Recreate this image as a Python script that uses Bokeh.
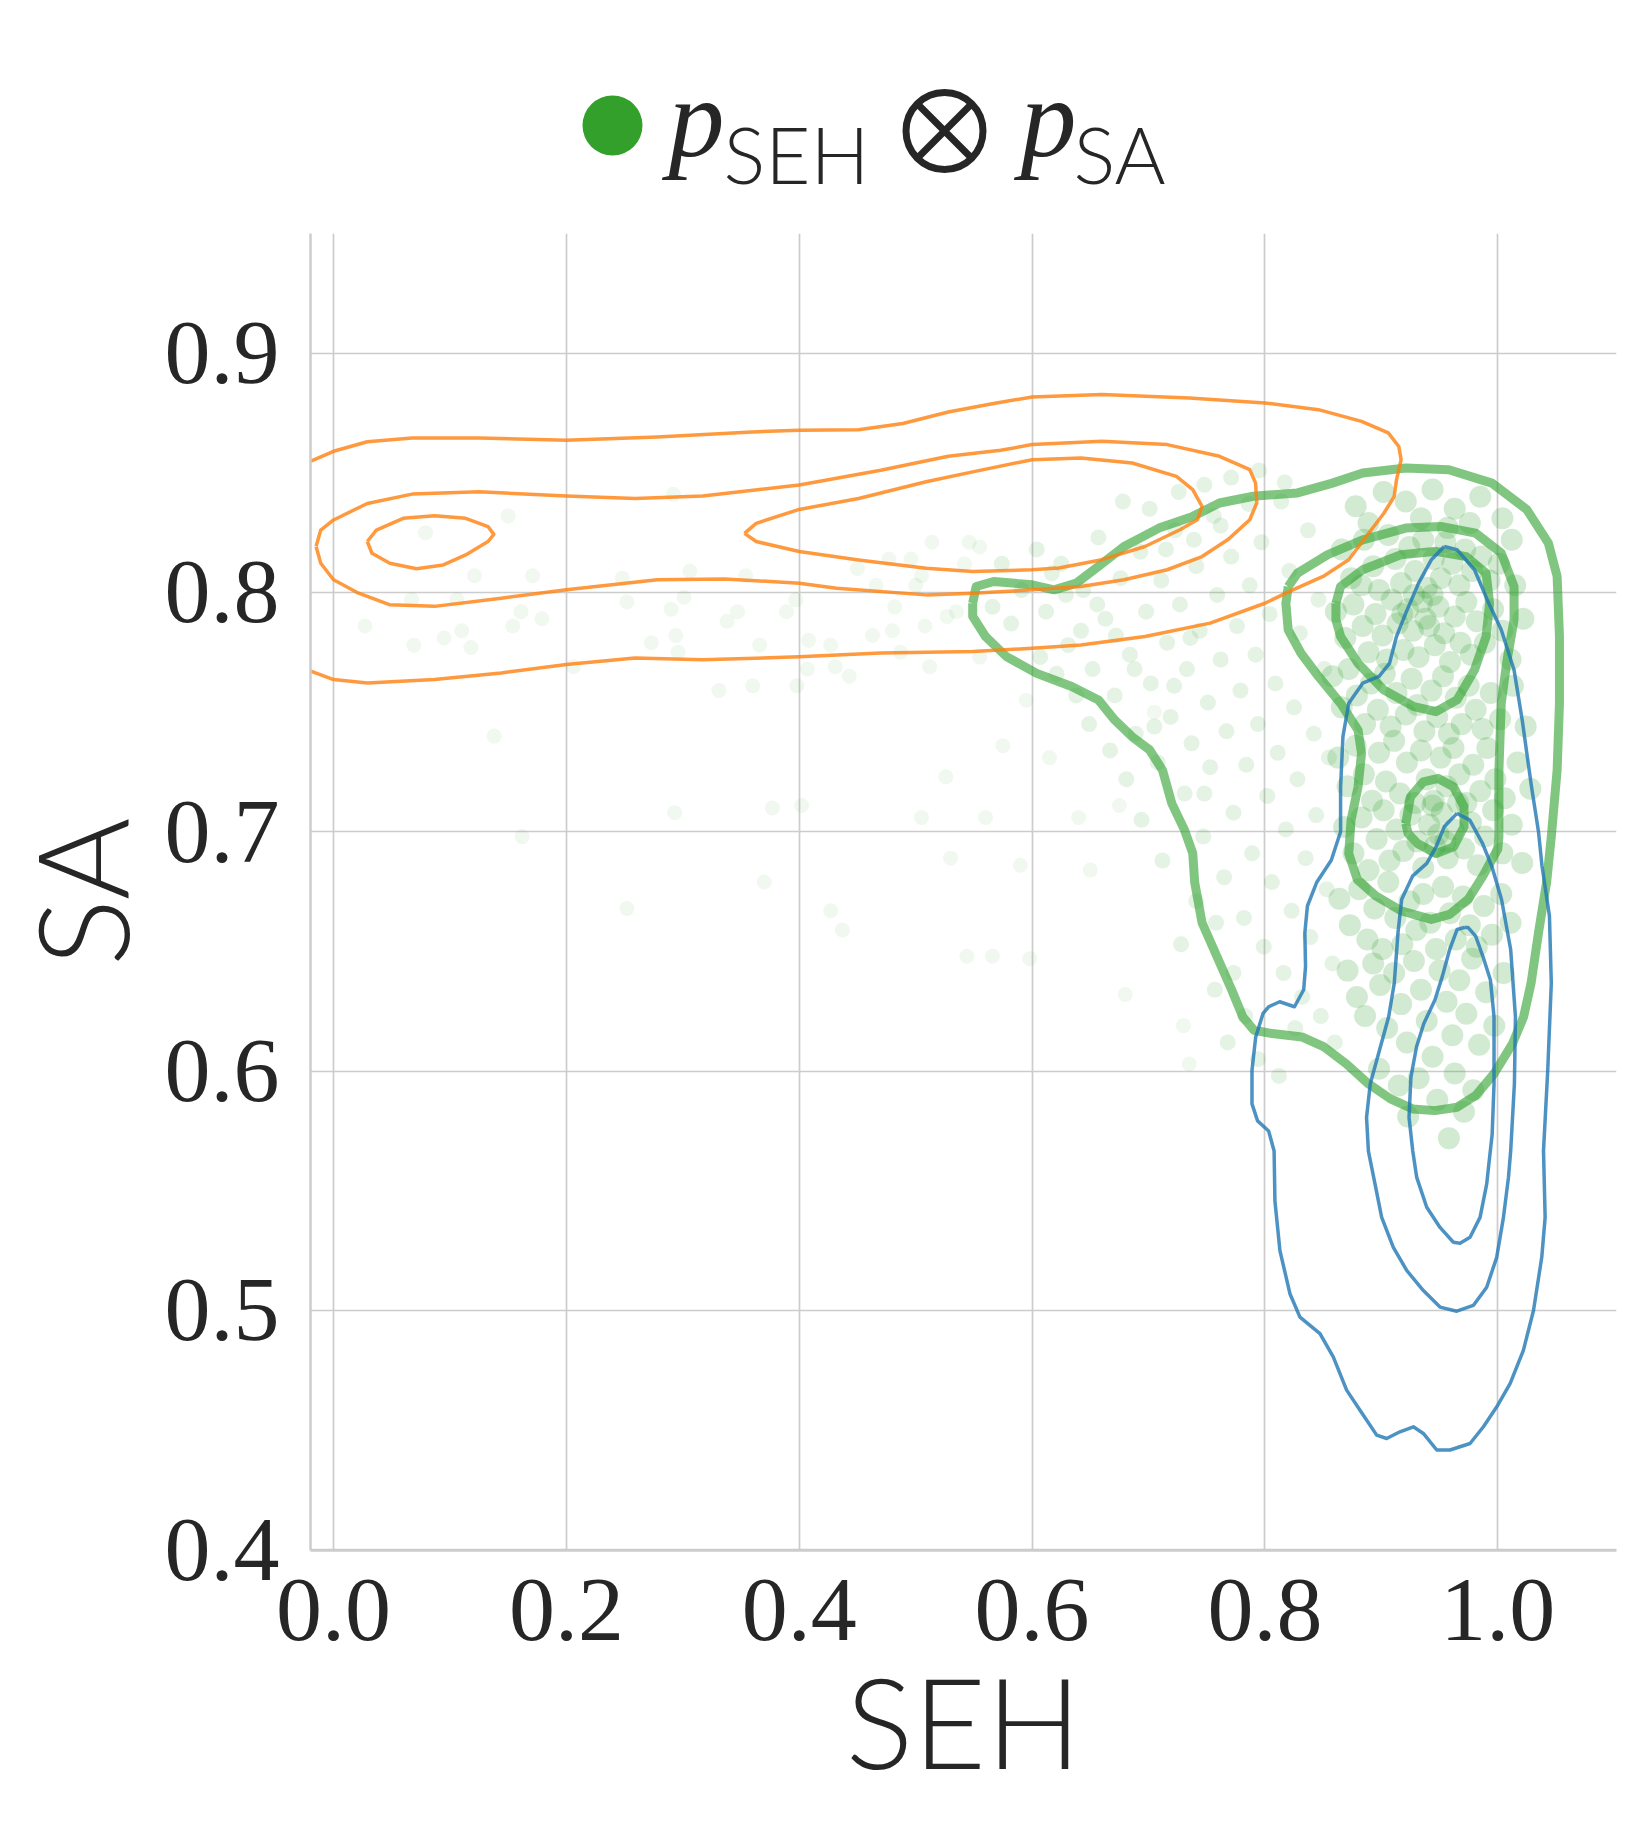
from bokeh.plotting import figure
from bokeh.models import Range1d, FixedTicker, NumeralTickFormatter
from bokeh.layouts import column
from bokeh.core.properties import value
from bokeh.embed import file_html
from bokeh.resources import INLINE

# ---------------- data ----------------
x_ticks = [0.0, 0.2, 0.4, 0.6, 0.8, 1.0]
y_ticks = [0.4, 0.5, 0.6, 0.7, 0.8, 0.9]

# orange (p_SA) KDE contours
orange_outer_x = [-0.03, -0.019, 0.0, 0.029, 0.0675, 0.125, 0.2, 0.278, 0.355, 0.4, 0.451, 0.489, 0.528, 0.567, 0.6, 0.66,
                  0.735, 0.8, 0.846, 0.883, 0.906, 0.915, 0.917, 0.913, 0.911, 0.902, 0.887, 0.872, 0.85, 0.824, 0.8,
                  0.753, 0.697, 0.642, 0.6, 0.549, 0.47, 0.4, 0.317, 0.259, 0.2, 0.144, 0.0867, 0.029, 0.0, -0.019, -0.03]
orange_outer_y = [0.853, 0.855, 0.859, 0.863, 0.8646, 0.8646, 0.8636, 0.865, 0.867, 0.8678, 0.868, 0.8706, 0.8754, 0.879,
                  0.8817, 0.8827, 0.8813, 0.8792, 0.8764, 0.8715, 0.8667, 0.861, 0.8555, 0.847, 0.84, 0.833, 0.8234,
                  0.8137, 0.8067, 0.8011, 0.7955, 0.7872, 0.7816, 0.7781, 0.7767, 0.7753, 0.7747, 0.7731, 0.7719,
                  0.7726, 0.7699, 0.7664, 0.7636, 0.7622, 0.7636, 0.767, 0.769]
orange_mid_x = [-0.015, -0.011, 0.0, 0.029, 0.0675, 0.125, 0.2, 0.259, 0.317, 0.4, 0.47, 0.528, 0.573, 0.6, 0.66, 0.716,
                0.761, 0.787, 0.792, 0.793, 0.787, 0.768, 0.746, 0.716, 0.679, 0.642, 0.6, 0.549, 0.509, 0.432, 0.4,
                0.336, 0.278, 0.2, 0.144, 0.0867, 0.048, 0.0215, 0.0, -0.011, -0.015]
orange_mid_y = [0.8192, 0.8261, 0.8303, 0.8372, 0.8411, 0.8421, 0.8403, 0.8393, 0.8403, 0.8449, 0.8511, 0.8569, 0.8594,
                0.8618, 0.8632, 0.8618, 0.8569, 0.8513, 0.8457, 0.8374, 0.8304, 0.822, 0.815, 0.8095, 0.8053, 0.8025,
                0.8011, 0.7997, 0.799, 0.8018, 0.8039, 0.8056, 0.8053, 0.8011, 0.7976, 0.7942, 0.7949, 0.7997, 0.8053,
                0.8122, 0.8192]
orange_in_a_x = [0.029, 0.0368, 0.0598, 0.0867, 0.1135, 0.1327, 0.1377, 0.1327, 0.1135, 0.0943, 0.0713, 0.0483, 0.033, 0.029]
orange_in_a_y = [0.8213, 0.8261, 0.831, 0.8321, 0.831, 0.8275, 0.8243, 0.8213, 0.8157, 0.8115, 0.8099, 0.8122, 0.8164, 0.8213]
orange_in_b_x = [0.353, 0.363, 0.4, 0.451, 0.509, 0.55, 0.6, 0.642, 0.686, 0.724, 0.738, 0.746, 0.742, 0.727, 0.697, 0.66,
                 0.623, 0.6, 0.549, 0.509, 0.451, 0.4, 0.363, 0.353]
orange_in_b_y = [0.8247, 0.8289, 0.8347, 0.8393, 0.8463, 0.8505, 0.8555, 0.8562, 0.8541, 0.8485, 0.843, 0.836, 0.8304,
                 0.8262, 0.8192, 0.8137, 0.8102, 0.8095, 0.8088, 0.8101, 0.8136, 0.8171, 0.8213, 0.8247]

# green (p_SEH) KDE contours
green_outer_x = [0.549, 0.552, 0.567, 0.6, 0.619, 0.638, 0.657, 0.679, 0.709, 0.738, 0.761, 0.79, 0.828, 0.858, 0.884,
                 0.921, 0.958, 0.995, 1.025, 1.0435, 1.051, 1.053, 1.053, 1.051, 1.046, 1.042, 1.035, 1.0286, 1.0222,
                 1.0127, 0.9968, 0.981, 0.965, 0.946, 0.927, 0.9079, 0.8889, 0.8698, 0.8508, 0.8317, 0.8063, 0.7905,
                 0.781, 0.7714, 0.7587, 0.746, 0.7397, 0.738, 0.731, 0.72, 0.712, 0.701, 0.686, 0.671, 0.657, 0.634,
                 0.604, 0.578, 0.56, 0.549, 0.549]
green_outer_y = [0.7955, 0.8025, 0.8046, 0.8032, 0.8011, 0.8039, 0.8109, 0.8192, 0.8269, 0.8318, 0.8374, 0.8402, 0.8416,
                 0.8457, 0.8499, 0.852, 0.8513, 0.8457, 0.8346, 0.8206, 0.8067, 0.7816, 0.7537, 0.7258, 0.698, 0.679,
                 0.6578, 0.6367, 0.6227, 0.6115, 0.5989, 0.5898, 0.5849, 0.5835, 0.5842, 0.5884, 0.5947, 0.6031,
                 0.6101, 0.6143, 0.6157, 0.6171, 0.6227, 0.634, 0.648, 0.662, 0.6788, 0.691, 0.7007, 0.7119, 0.7258,
                 0.7342, 0.7397, 0.7467, 0.7551, 0.7607, 0.7662, 0.7732, 0.7816, 0.79, 0.7955]
green_mid_x = [0.82, 0.828, 0.854, 0.884, 0.921, 0.951, 0.981, 1.003, 1.014, 1.014, 1.008, 1.003, 1.001, 1.001, 1.0,
               0.9968, 0.9873, 0.9746, 0.9587, 0.9429, 0.9175, 0.8952, 0.8794, 0.872, 0.874, 0.88, 0.883, 0.88, 0.865,
               0.846, 0.831, 0.82, 0.818, 0.82]
green_mid_y = [0.8025, 0.8081, 0.8158, 0.822, 0.8269, 0.8276, 0.8248, 0.8165, 0.8025, 0.7886, 0.7718, 0.7537, 0.7258,
               0.698, 0.6928, 0.69, 0.6816, 0.6718, 0.6655, 0.6634, 0.6669, 0.6732, 0.68, 0.6909, 0.7049, 0.7188,
               0.7328, 0.7425, 0.7537, 0.7649, 0.7746, 0.7844, 0.7955, 0.8025]
green_in_a_x = [0.861, 0.865, 0.884, 0.917, 0.947, 0.973, 0.99, 0.993, 0.99, 0.98, 0.965, 0.947, 0.928, 0.902, 0.88,
                0.865, 0.861, 0.861]
green_in_a_y = [0.7955, 0.8025, 0.8095, 0.8158, 0.8172, 0.815, 0.8081, 0.7955, 0.7816, 0.7676, 0.7551, 0.7502, 0.7523,
                0.7593, 0.7704, 0.7816, 0.7886, 0.7955]
green_in_b_x = [0.921, 0.925, 0.936, 0.949, 0.962, 0.971, 0.971, 0.962, 0.947, 0.931, 0.923, 0.921]
green_in_b_y = [0.7035, 0.7146, 0.7209, 0.7223, 0.7188, 0.7105, 0.7021, 0.6937, 0.6909, 0.6951, 0.6993, 0.7035]

# blue KDE contours
blue_outer_x = [0.954, 0.943, 0.932, 0.921, 0.913, 0.907, 0.898, 0.884, 0.872, 0.867, 0.865, 0.865, 0.857, 0.8444,
                0.8365, 0.8343, 0.8349, 0.8333, 0.8254, 0.8127, 0.8032, 0.7984, 0.7921, 0.7889, 0.7889, 0.7937,
                0.8032, 0.8079, 0.8086, 0.8129, 0.8215, 0.8301, 0.8473, 0.8587, 0.8702, 0.8817, 0.896, 0.9046, 0.916,
                0.9275, 0.9361, 0.9476, 0.959, 0.9762, 0.9877, 1.0, 1.0106, 1.022, 1.0307, 1.0378, 1.0407, 1.0393,
                1.0429, 1.046, 1.0444, 1.038, 1.035, 1.029, 1.021, 1.014, 1.003, 0.991, 0.98, 0.965, 0.954]
blue_outer_y = [0.8192, 0.8137, 0.8039, 0.7914, 0.7816, 0.7704, 0.7649, 0.7621, 0.7537, 0.7397, 0.7188, 0.7, 0.6881,
                0.6788, 0.669, 0.6578, 0.6438, 0.634, 0.6269, 0.629, 0.6269, 0.6241, 0.6143, 0.6003, 0.5863, 0.5792,
                0.575, 0.5666, 0.5458, 0.525, 0.507, 0.4972, 0.4903, 0.4806, 0.4667, 0.4583, 0.4479, 0.4465, 0.4493,
                0.4514, 0.4486, 0.4417, 0.4417, 0.4444, 0.4514, 0.4604, 0.4694, 0.4833, 0.5, 0.5222, 0.5389, 0.5667,
                0.6, 0.6367, 0.6648, 0.6858, 0.7, 0.7188, 0.7467, 0.7676, 0.7844, 0.7969, 0.8095, 0.8179, 0.8192]
blue_mid_x = [0.965, 0.976, 0.987, 0.995, 1.0032, 1.0111, 1.0152, 1.0143, 1.0111, 1.0092, 1.0049, 0.9991, 0.9905,
              0.979, 0.9648, 0.9504, 0.9361, 0.9218, 0.9103, 0.9003, 0.8946, 0.8889, 0.8873, 0.8905, 0.8984, 0.9063,
              0.9111, 0.9143, 0.9175, 0.927, 0.939, 0.947, 0.954, 0.965]
blue_mid_y = [0.7077, 0.7049, 0.6951, 0.6854, 0.6718, 0.6508, 0.6227, 0.5947, 0.5666, 0.5556, 0.5389, 0.5222, 0.5097,
              0.5021, 0.4997, 0.5014, 0.5083, 0.5167, 0.5264, 0.5389, 0.5528, 0.5666, 0.5806, 0.5947, 0.6087, 0.6227,
              0.6367, 0.6578, 0.6718, 0.6816, 0.6868, 0.6937, 0.7021, 0.7077]
blue_in_x = [0.9714, 0.9651, 0.9587, 0.9524, 0.946, 0.9365, 0.9302, 0.9254, 0.9238, 0.927, 0.9304, 0.939, 0.9504,
             0.9619, 0.9676, 0.9762, 0.9848, 0.9905, 0.992, 0.9952, 0.9968, 0.9968, 0.9937, 0.9873, 0.981, 0.9746, 0.9714]
blue_in_y = [0.66, 0.6592, 0.6508, 0.6396, 0.6297, 0.6199, 0.6101, 0.5975, 0.5806, 0.5666, 0.5556, 0.5431, 0.5347,
             0.5285, 0.5281, 0.5306, 0.5389, 0.5528, 0.5596, 0.5736, 0.5947, 0.6227, 0.6381, 0.6479, 0.6564, 0.66, 0.66]

# sampled points (p_SEH samples): sparse outliers, transition band, dense core
sparse_x = [0.027, 0.069, 0.095, 0.11, 0.118, 0.067, 0.106, 0.079, 0.121, 0.150, 0.171, 0.161, 0.154, 0.179, 0.206,
            0.248, 0.252, 0.273, 0.290, 0.294, 0.296, 0.301, 0.306, 0.292, 0.331, 0.338, 0.347, 0.354, 0.360, 0.366,
            0.389, 0.397, 0.398, 0.407, 0.408, 0.427, 0.431, 0.443, 0.450, 0.463, 0.466, 0.477, 0.480, 0.482, 0.487,
            0.496, 0.500, 0.505, 0.508, 0.512, 0.514, 0.527, 0.535, 0.542, 0.546, 0.555, 0.555, 0.293, 0.370, 0.377,
            0.402, 0.427, 0.437, 0.252, 0.162, 0.138, 0.526, 0.544, 0.566, 0.59, 0.598, 0.505, 0.56, 0.53, 0.615,
            0.595, 0.575, 0.64, 0.675, 0.68, 0.735, 0.73, 0.65, 0.705]
sparse_y = [0.786, 0.778, 0.781, 0.784, 0.777, 0.797, 0.797, 0.825, 0.807, 0.832, 0.807, 0.792, 0.786, 0.789, 0.769,
            0.806, 0.796, 0.779, 0.793, 0.782, 0.775, 0.798, 0.809, 0.841, 0.759, 0.788, 0.792, 0.807, 0.761, 0.778,
            0.792, 0.797, 0.761, 0.768, 0.780, 0.778, 0.769, 0.765, 0.810, 0.782, 0.803, 0.814, 0.784, 0.794, 0.775,
            0.814, 0.803, 0.807, 0.786, 0.769, 0.821, 0.790, 0.792, 0.812, 0.821, 0.819, 0.773, 0.708, 0.679, 0.710,
            0.711, 0.667, 0.659, 0.668, 0.698, 0.740, 0.723, 0.648, 0.648, 0.686, 0.647, 0.706, 0.706, 0.689, 0.731,
            0.755, 0.736, 0.706, 0.711, 0.632, 0.603, 0.619, 0.684, 0.75]
band_x = [0.612, 0.625, 0.631, 0.644, 0.652, 0.657, 0.663, 0.671, 0.676, 0.684, 0.689, 0.693, 0.698, 0.702, 0.708,
          0.711, 0.716, 0.719, 0.723, 0.727, 0.731, 0.733, 0.737, 0.741, 0.744, 0.747, 0.751, 0.753, 0.756, 0.759,
          0.762, 0.765, 0.767, 0.771, 0.773, 0.776, 0.779, 0.782, 0.784, 0.787, 0.789, 0.792, 0.794, 0.797, 0.799,
          0.802, 0.804, 0.806, 0.809, 0.811, 0.814, 0.816, 0.818, 0.821, 0.823, 0.825, 0.828, 0.830, 0.832, 0.835,
          0.837, 0.839, 0.842, 0.844, 0.846, 0.848, 0.851, 0.853, 0.855, 0.858, 0.86, 0.773, 0.758, 0.741, 0.728,
          0.712, 0.694, 0.681, 0.667, 0.649, 0.638, 0.621, 0.607, 0.794, 0.812, 0.826, 0.783, 0.768, 0.757, 0.748,
          0.736, 0.722, 0.705, 0.688, 0.672, 0.656, 0.642, 0.629, 0.617, 0.604, 0.591, 0.582, 0.574, 0.566, 0.678,
          0.701, 0.726, 0.748, 0.771, 0.795, 0.817, 0.786, 0.762, 0.739, 0.715]
band_y = [0.792, 0.812, 0.778, 0.801, 0.768, 0.823, 0.789, 0.757, 0.806, 0.774, 0.741, 0.817, 0.792, 0.762, 0.729,
          0.805, 0.779, 0.748, 0.826, 0.795, 0.716, 0.768, 0.737, 0.811, 0.784, 0.698, 0.754, 0.727, 0.832, 0.799,
          0.772, 0.681, 0.742, 0.815, 0.708, 0.786, 0.759, 0.664, 0.728, 0.803, 0.691, 0.774, 0.745, 0.821, 0.652,
          0.715, 0.791, 0.679, 0.762, 0.733, 0.838, 0.641, 0.701, 0.809, 0.667, 0.752, 0.722, 0.783, 0.631, 0.689,
          0.826, 0.656, 0.741, 0.707, 0.797, 0.623, 0.768, 0.676, 0.731, 0.645, 0.612, 0.641, 0.662, 0.671, 0.653,
          0.688, 0.705, 0.722, 0.734, 0.745, 0.757, 0.766, 0.773, 0.605, 0.598, 0.618, 0.623, 0.612, 0.634, 0.716,
          0.781, 0.761, 0.744, 0.768, 0.782, 0.795, 0.784, 0.799, 0.808, 0.818, 0.801, 0.787, 0.812, 0.794, 0.838,
          0.835, 0.842, 0.845, 0.848, 0.851, 0.846, 0.837, 0.828, 0.822, 0.818]
core_x = [0.878, 0.902, 0.921, 0.944, 0.963, 0.985, 1.004, 0.889, 0.934, 0.957, 0.976, 1.012,
          0.866, 0.874, 0.885, 0.893, 0.898, 0.906, 0.912, 0.917, 0.924, 0.929, 0.936, 0.939, 0.945, 0.951, 0.955,
          0.961, 0.967, 0.972, 0.978, 0.986, 0.993, 1.001, 1.015, 0.883,
          0.861, 0.869, 0.876, 0.884, 0.889, 0.895, 0.901, 0.905, 0.909, 0.914, 0.919, 0.923, 0.927, 0.932, 0.935,
          0.941, 0.946, 0.949, 0.954, 0.959, 0.963, 0.968, 0.973, 0.977, 0.982, 0.989, 0.996, 1.004, 1.011, 1.022,
          0.918, 0.938, 0.928, 0.944,
          0.858, 0.866, 0.872, 0.879, 0.886, 0.891, 0.897, 0.903, 0.908, 0.913, 0.921, 0.926, 0.931, 0.937, 0.943,
          0.948, 0.953, 0.958, 0.964, 0.969, 0.975, 0.981, 0.987, 0.994, 1.002, 1.013, 1.024,
          0.863, 0.871, 0.878, 0.885, 0.892, 0.898, 0.904, 0.911, 0.916, 0.922, 0.929, 0.934, 0.939, 0.945, 0.951,
          0.956, 0.962, 0.967, 0.973, 0.979, 0.985, 0.991, 0.998, 1.006, 1.017, 1.028,
          0.868, 0.876, 0.883, 0.889, 0.896, 0.902, 0.907, 0.913, 0.919, 0.925, 0.931, 0.936, 0.941, 0.946, 0.952,
          0.957, 0.962, 0.966, 0.971, 0.977, 0.983, 0.989, 0.996, 1.004, 1.012, 1.021, 0.944, 0.949, 0.955,
          0.864, 0.873, 0.881, 0.888, 0.894, 0.901, 0.906, 0.912, 0.918, 0.924, 0.93, 0.936, 0.942, 0.947, 0.953,
          0.959, 0.964, 0.97, 0.976, 0.982, 0.988, 0.995, 1.003, 1.011,
          0.871, 0.879, 0.886, 0.893, 0.899, 0.905, 0.911, 0.917, 0.922, 0.928, 0.934, 0.939, 0.944, 0.95, 0.956,
          0.961, 0.967, 0.973, 0.978, 0.984, 0.99, 0.997, 1.005,
          0.898, 0.915, 0.932, 0.948, 0.963, 0.979, 0.958, 0.971, 0.923]
core_y = [0.836, 0.842, 0.838, 0.843, 0.835, 0.84, 0.831, 0.829, 0.831, 0.827, 0.829, 0.822,
          0.818, 0.806, 0.822, 0.811, 0.801, 0.824, 0.814, 0.804, 0.819, 0.809, 0.822, 0.802, 0.814, 0.806, 0.821,
          0.812, 0.803, 0.818, 0.809, 0.815, 0.805, 0.812, 0.803, 0.803,
          0.792, 0.781, 0.795, 0.786, 0.775, 0.791, 0.782, 0.772, 0.797, 0.787, 0.776, 0.793, 0.784, 0.773, 0.796,
          0.786, 0.778, 0.794, 0.783, 0.771, 0.79, 0.779, 0.796, 0.774, 0.788, 0.779, 0.793, 0.784, 0.772, 0.789,
          0.791, 0.789, 0.799, 0.799,
          0.765, 0.752, 0.768, 0.757, 0.745, 0.762, 0.751, 0.766, 0.744, 0.758, 0.749, 0.764, 0.753, 0.742, 0.759,
          0.748, 0.765, 0.741, 0.756, 0.745, 0.761, 0.751, 0.743, 0.758, 0.747, 0.761, 0.744,
          0.731, 0.719, 0.736, 0.724, 0.713, 0.733, 0.721, 0.738, 0.716, 0.729, 0.712, 0.734, 0.722, 0.713, 0.731,
          0.719, 0.735, 0.724, 0.712, 0.728, 0.717, 0.735, 0.722, 0.714, 0.729, 0.718,
          0.702, 0.691, 0.706, 0.684, 0.697, 0.709, 0.688, 0.701, 0.692, 0.707, 0.696, 0.685, 0.703, 0.694, 0.708,
          0.689, 0.701, 0.712, 0.693, 0.704, 0.686, 0.698, 0.709, 0.691, 0.703, 0.687, 0.711, 0.699, 0.696,
          0.672, 0.661, 0.676, 0.655, 0.668, 0.651, 0.679, 0.664, 0.653, 0.671, 0.659, 0.674, 0.662, 0.651, 0.677,
          0.666, 0.655, 0.673, 0.661, 0.652, 0.669, 0.657, 0.674, 0.662,
          0.642, 0.631, 0.623, 0.645, 0.636, 0.618, 0.641, 0.628, 0.612, 0.646, 0.634, 0.621, 0.606, 0.642, 0.629,
          0.615, 0.638, 0.624, 0.647, 0.611, 0.633, 0.619, 0.641,
          0.601, 0.594, 0.597, 0.588, 0.599, 0.592, 0.572, 0.583, 0.581]

# legend items
legend_sub = ["SEH", "SA"]

# ---------------- styling ----------------
GREEN = "#2ca02c"
ORANGE = "#ff7f0e"
BLUE = "#1f77b4"
DARK = "#262626"
GRID = "#cccccc"
SERIF = "Liberation Serif"
SANS = "Lato Light"

FW, FH = 1306, 1317          # plot frame size
BL, BR = 310, 25             # left / right borders
LH = 233                     # legend strip height

# legend strip (top); coordinates are page pixels (y measured upward from the strip bottom)
leg = figure(frame_width=FW, frame_height=LH, x_range=Range1d(BL, BL + FW), y_range=Range1d(0, LH),
             output_backend="svg", toolbar_location=None, x_axis_location=None, y_axis_location=None,
             min_border_left=BL, min_border_right=BR, min_border_top=0, min_border_bottom=0)
leg.outline_line_color = None
leg.grid.visible = False
leg.background_fill_color = "white"
leg.border_fill_color = "white"
leg.scatter(x=[612], y=[108], size=60, marker="circle", fill_color="#33a02c", line_color=None)
leg.scatter(x=[944], y=[102.5], size=77, marker="circle_x", fill_color=None, line_color=DARK, line_width=7)
leg.text(x=[668, 1020], y=[116, 116], text=["p", "p"], text_font=value(SERIF), text_font_style="italic",
         text_font_size="112px", text_color=DARK, text_align="left", text_baseline="alphabetic")
leg.text(x=[723, 1073], y=[80, 80], text=legend_sub, text_font=value(SANS),
         text_font_size="78px", text_color=DARK, text_align="left", text_baseline="alphabetic")

# main plot
p = figure(frame_width=FW, frame_height=FH, x_range=Range1d(-0.0198, 1.102), y_range=Range1d(0.3997, 0.95),
           output_backend="svg", toolbar_location=None,
           min_border_left=BL, min_border_right=BR, min_border_top=0, min_border_bottom=278)
p.outline_line_color = None
p.background_fill_color = "white"
p.border_fill_color = "white"

p.scatter(sparse_x, sparse_y, size=15, fill_color=GREEN, fill_alpha=0.07, line_color=None)
p.scatter(band_x, band_y, size=16, fill_color=GREEN, fill_alpha=0.12, line_color=None)
p.scatter(core_x, core_y, size=22, fill_color=GREEN, fill_alpha=0.22, line_color=None)

p.multi_line([green_outer_x, green_mid_x, green_in_a_x, green_in_b_x],
             [green_outer_y, green_mid_y, green_in_a_y, green_in_b_y],
             line_color=GREEN, line_alpha=0.6, line_width=9, line_join="round")
p.multi_line([orange_outer_x, orange_mid_x, orange_in_a_x, orange_in_b_x],
             [orange_outer_y, orange_mid_y, orange_in_a_y, orange_in_b_y],
             line_color=ORANGE, line_alpha=0.8, line_width=3.5, line_join="round")
p.multi_line([blue_outer_x, blue_mid_x, blue_in_x],
             [blue_outer_y, blue_mid_y, blue_in_y],
             line_color=BLUE, line_alpha=0.8, line_width=3.5, line_join="round")

p.xaxis.ticker = FixedTicker(ticks=x_ticks)
p.yaxis.ticker = FixedTicker(ticks=y_ticks)
p.xaxis.formatter = NumeralTickFormatter(format="0.0")
p.yaxis.formatter = NumeralTickFormatter(format="0.0")
for ax in (p.xaxis, p.yaxis):
    ax.axis_line_color = GRID
    ax.axis_line_width = 2.5
    ax.major_tick_line_color = None
    ax.minor_tick_line_color = None
    ax.major_label_text_font = SERIF
    ax.major_label_text_font_size = "92px"
    ax.major_label_text_color = DARK
    ax.axis_label_text_font = SANS
    ax.axis_label_text_font_size = "126px"
    ax.axis_label_text_font_style = "normal"
    ax.axis_label_text_color = DARK
p.xaxis.axis_label = "SEH"
p.yaxis.axis_label = "SA"
p.xaxis.major_label_standoff = 23
p.yaxis.major_label_standoff = 25
p.xaxis.axis_label_standoff = 2
p.yaxis.axis_label_standoff = 6
p.grid.grid_line_color = GRID
p.grid.grid_line_width = 1.7

layout = column(leg, p, spacing=0)
open("out.html", "w").write(file_html(layout, INLINE))
